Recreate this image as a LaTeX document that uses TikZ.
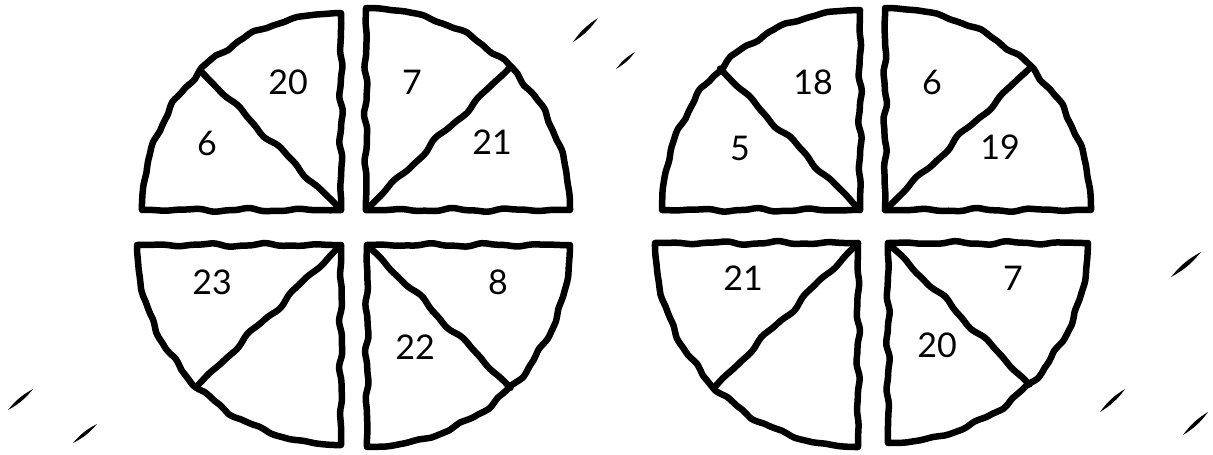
\documentclass[tikz,border=0pt]{standalone}
\usepackage{fontspec}
\setmainfont{Lato}
\tikzset{
  hand/.style={line width=6.5pt, line join=round, line cap=round},
  lbl/.style={font=\fontsize{34}{34}\selectfont, inner sep=0pt},
  stroke/.style={fill=black}
}
% cx cy sx sy rx ry phase
\newcommand{\qpiece}[7]{%
  \draw[hand] (#1,#2)
    -- plot[domain=0:1,samples=40,smooth] ({#1+(#3)*#5*\x},{#2+sin(180*\x)*(1.5*sin(1300*\x+#7)+0.6*sin(2900*\x+2*#7))})
    -- plot[domain=0:90,samples=50,smooth] ({#1+(#3)*(#5+sin(2*\x)*(1.6*sin(24*\x+#7)+0.6*sin(57*\x+3*#7)))*cos(\x)},{#2+(#4)*(#6+sin(2*\x)*(1.6*sin(24*\x+#7)+0.6*sin(57*\x+3*#7)))*sin(\x)})
    -- plot[domain=0:1,samples=40,smooth] ({#1+sin(180*\x)*(1.5*sin(1500*\x+3*#7)+0.6*sin(3100*\x+#7))},{#2+(#4)*#6*(1-\x)})
    -- cycle;
  \draw[hand] plot[domain=0:1,samples=40,smooth]
    ({#1+(#3)*#5*0.7071*\x-(#4)*0.7071*sin(180*\x)*(2*sin(1100*\x+#7)+0.7*sin(2500*\x+2*#7))},
     {#2+(#4)*#6*0.7071*\x+(#3)*0.7071*sin(180*\x)*(2*sin(1100*\x+#7)+0.7*sin(2500*\x+2*#7))});
}
\newcommand{\brush}[4]{%
  \fill[stroke] (#1,#2) to[bend left=11] (#3,#4) to[bend left=11] (#1,#2);
}
\begin{document}
\begin{tikzpicture}[x=1pt,y=-1pt]
\useasboundingbox (0,0) rectangle (1213,455);
% left circle
\qpiece{341}{210}{-1}{-1}{199}{197}{10}
\qpiece{366}{210}{1}{-1}{204}{202}{70}
\qpiece{341}{245}{-1}{1}{204}{200}{140}
\qpiece{367}{245}{1}{1}{203}{202}{220}
% right circle
\qpiece{860}{210}{-1}{-1}{198}{200}{300}
\qpiece{885}{210}{1}{-1}{206}{202}{40}
\qpiece{858}{243}{-1}{1}{203}{204}{110}
\qpiece{888}{243}{1}{1}{200}{200}{190}
% labels left
\node[lbl] (a1) at (288,82) {20};
\node[lbl] (a2) at (207,143) {6};
\node[lbl] (a3) at (412,82) {7};
\node[lbl] (a4) at (492,142) {21};
\node[lbl] (a5) at (212,282) {23};
\node[lbl] (a6) at (498,282) {8};
\node[lbl] (a7) at (415,347) {22};
% labels right
\node[lbl] (b1) at (813,82) {18};
\node[lbl] (b2) at (740,148) {5};
\node[lbl] (b3) at (932,82) {6};
\node[lbl] (b4) at (1000,147) {19};
\node[lbl] (b5) at (743,278) {21};
\node[lbl] (b6) at (1013,278) {7};
\node[lbl] (b7) at (937,345) {20};
% brush ticks
\brush{8}{410}{33}{389}
\brush{73}{443}{97}{424}
\brush{573}{42}{598}{18}
\brush{616}{69}{635}{52}
\brush{1171}{277}{1201}{252}
\brush{1100}{412}{1125}{389}
\brush{1183}{435}{1208}{412}
\end{tikzpicture}
\end{document}
